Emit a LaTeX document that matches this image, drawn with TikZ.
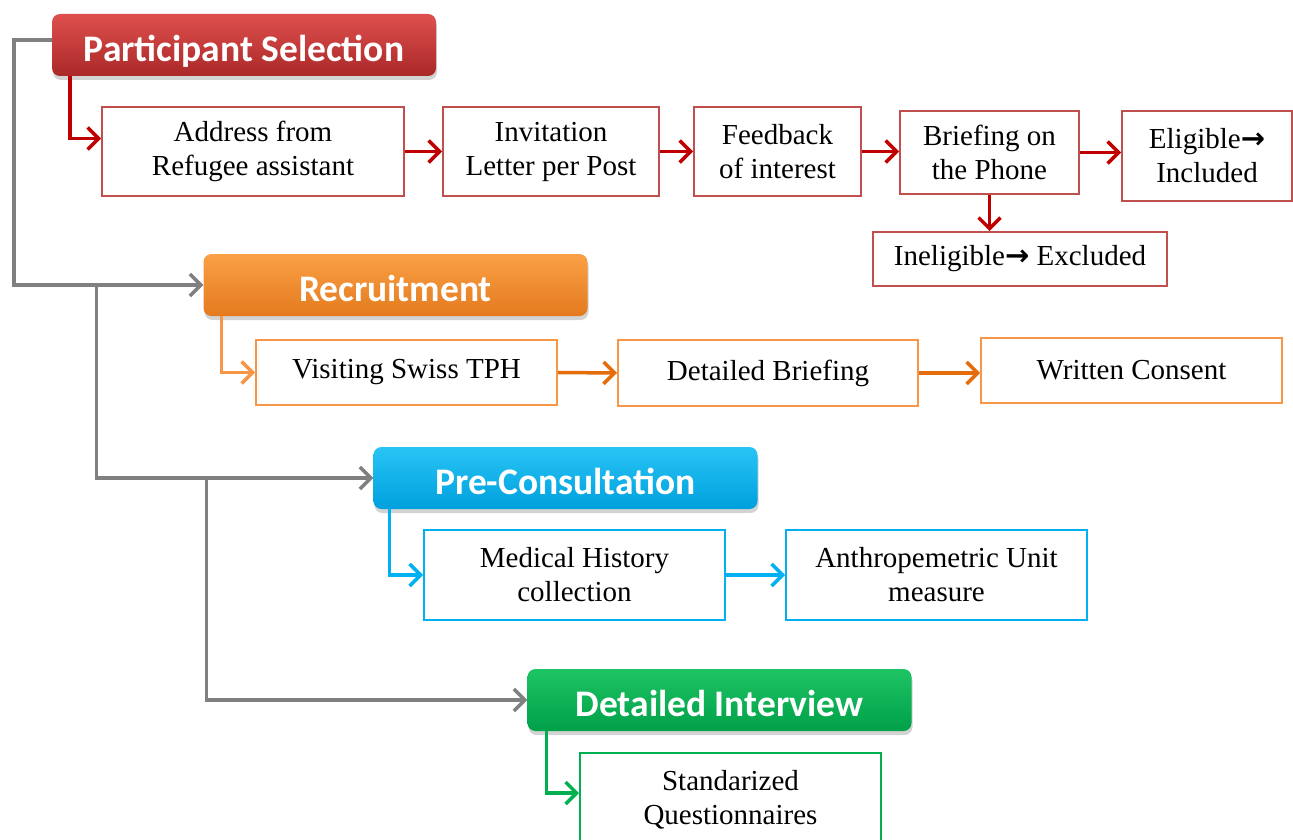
\documentclass[tikz,border=0pt]{standalone}
\usepackage{fontspec}
\setmainfont{Liberation Serif}
\newfontfamily\headfont{Carlito}
\newfontfamily\arrowfont{DejaVu Sans}
\usepackage{tikz}
\usepackage{xcolor}
\usetikzlibrary{positioning,shapes,shadows,arrows,arrows.meta}

\definecolor{selred}{HTML}{C0504D}
\definecolor{arrred}{HTML}{C00000}
\definecolor{recorange}{HTML}{F79646}
\definecolor{arrorange}{HTML}{E46C0A}
\definecolor{preblue}{HTML}{00B0F0}
\definecolor{intgreen}{HTML}{00B050}
\definecolor{linkgray}{HTML}{808080}
\newcommand{\thento}{{\arrowfont\bfseries →}}

\begin{document}
\begin{tikzpicture}[x=1pt,y=-1pt]
\tikzstyle{every node}+=[inner sep=0pt]
\tikzstyle{stage}=[rounded corners=8pt, minimum width=384pt, minimum height=62pt,
  text=white, text height=34pt, text depth=1pt,
  font=\headfont\bfseries\fontsize{37.5}{40}\selectfont,
  drop shadow={shadow xshift=1pt, shadow yshift=-4pt, opacity=0.35}]
\tikzstyle{task}=[draw, fill=white, line width=2pt, align=center,
  font=\fontsize{29}{34}\selectfont]
\tikzstyle{link}=[line width=3.5pt, -{Straight Barb[length=11pt,width=22pt,line width=3.5pt]}]
\useasboundingbox (0,0) rectangle (1293,840);

% stage headers
\node[stage, top color={rgb,255:red,222;green,80;blue,78}, bottom color={rgb,255:red,170;green,40;blue,40}] (select) at (244,45) {Participant Selection};
\node[stage, top color={rgb,255:red,250;green,160;blue,70}, bottom color={rgb,255:red,228;green,122;blue,30}] (recruit) at (395.5,285) {Recruitment};
\node[stage, top color={rgb,255:red,40;green,196;blue,245}, bottom color={rgb,255:red,0;green,160;blue,222}] (precons) at (565.5,478) {Pre-Consultation};
\node[stage, top color={rgb,255:red,30;green,196;blue,100}, bottom color={rgb,255:red,0;green,160;blue,72}] (interview) at (719.5,700) {Detailed Interview};

% participant selection
\node[task, draw=selred, minimum width=302pt, minimum height=89pt] (address) at (253,151.5) {Address from\\Refugee assistant};
\node[task, draw=selred, minimum width=216pt, minimum height=89pt] (letter) at (551,151.5) {Invitation\\Letter per Post};
\node[task, draw=selred, minimum width=167pt, minimum height=89pt] (feedback) at (777.5,151.5) {Feedback\\of interest};
\node[task, draw=selred, minimum width=179pt, minimum height=83pt] (phone) at (989.5,152.5) {Briefing on\\the Phone};
\node[task, draw=selred, minimum width=170pt, minimum height=90pt] (eligible) at (1207,156) {Eligible\thento\\Included};
\node[task, draw=selred, minimum width=294pt, minimum height=54pt] (ineligible) at (1020,259) {Ineligible\thento{} Excluded};

% recruitment
\node[task, draw=recorange, minimum width=301pt, minimum height=65pt] (visit) at (406.5,372.5) {Visiting Swiss TPH};
\node[task, draw=recorange, minimum width=300pt, minimum height=66pt] (briefing) at (768,373) {Detailed Briefing};
\node[task, draw=recorange, minimum width=301pt, minimum height=65pt] (consent) at (1131.5,370.5) {Written Consent};

% pre-consultation
\node[task, draw=preblue, minimum width=301pt, minimum height=90pt] (history) at (574.5,575) {Medical History\\collection};
\node[task, draw=preblue, minimum width=301pt, minimum height=90pt] (anthro) at (936.5,575) {Anthropemetric Unit\\measure};

% detailed interview
\node[task, draw=intgreen, minimum width=301pt, minimum height=94pt] (questions) at (730.5,800) {Standarized\\Questionnaires};

% gray spine
\draw[link, linkgray] ([yshift=5pt]select.west) -- ++(-38,0) |- (recruit.west);
\draw[link, linkgray] (recruit.west) ++(-107,0) |- (precons.west);
\draw[link, linkgray] (precons.west) ++(-167,0) |- (interview.west);

% red arrows
\draw[link, arrred] ([xshift=18pt]select.south west) |- ([yshift=13pt]address.west);
\draw[link, arrred] (address.east) -- (letter.west);
\draw[link, arrred] (letter.east) -- (feedback.west);
\draw[link, arrred] (feedback.east) -- (feedback.east -| phone.west);
\draw[link, arrred] (phone.east) -- (phone.east -| eligible.west);
\draw[link, arrred] (phone.south) -- (phone.south |- ineligible.north);

% orange arrows
\draw[link, recorange] ([xshift=18pt]recruit.south west) |- (visit.west);
\draw[link, arrorange] (visit.east) -- (briefing.west);
\draw[link, arrorange] (briefing.east) -- (briefing.east -| consent.west);

% blue arrows
\draw[link, preblue] ([xshift=16pt]precons.south west) |- (history.west);
\draw[link, preblue] (history.east) -- (anthro.west);

% green arrow
\draw[link, intgreen] ([xshift=19pt]interview.south west) |- ([yshift=7pt]questions.west);
\end{tikzpicture}
\end{document}
